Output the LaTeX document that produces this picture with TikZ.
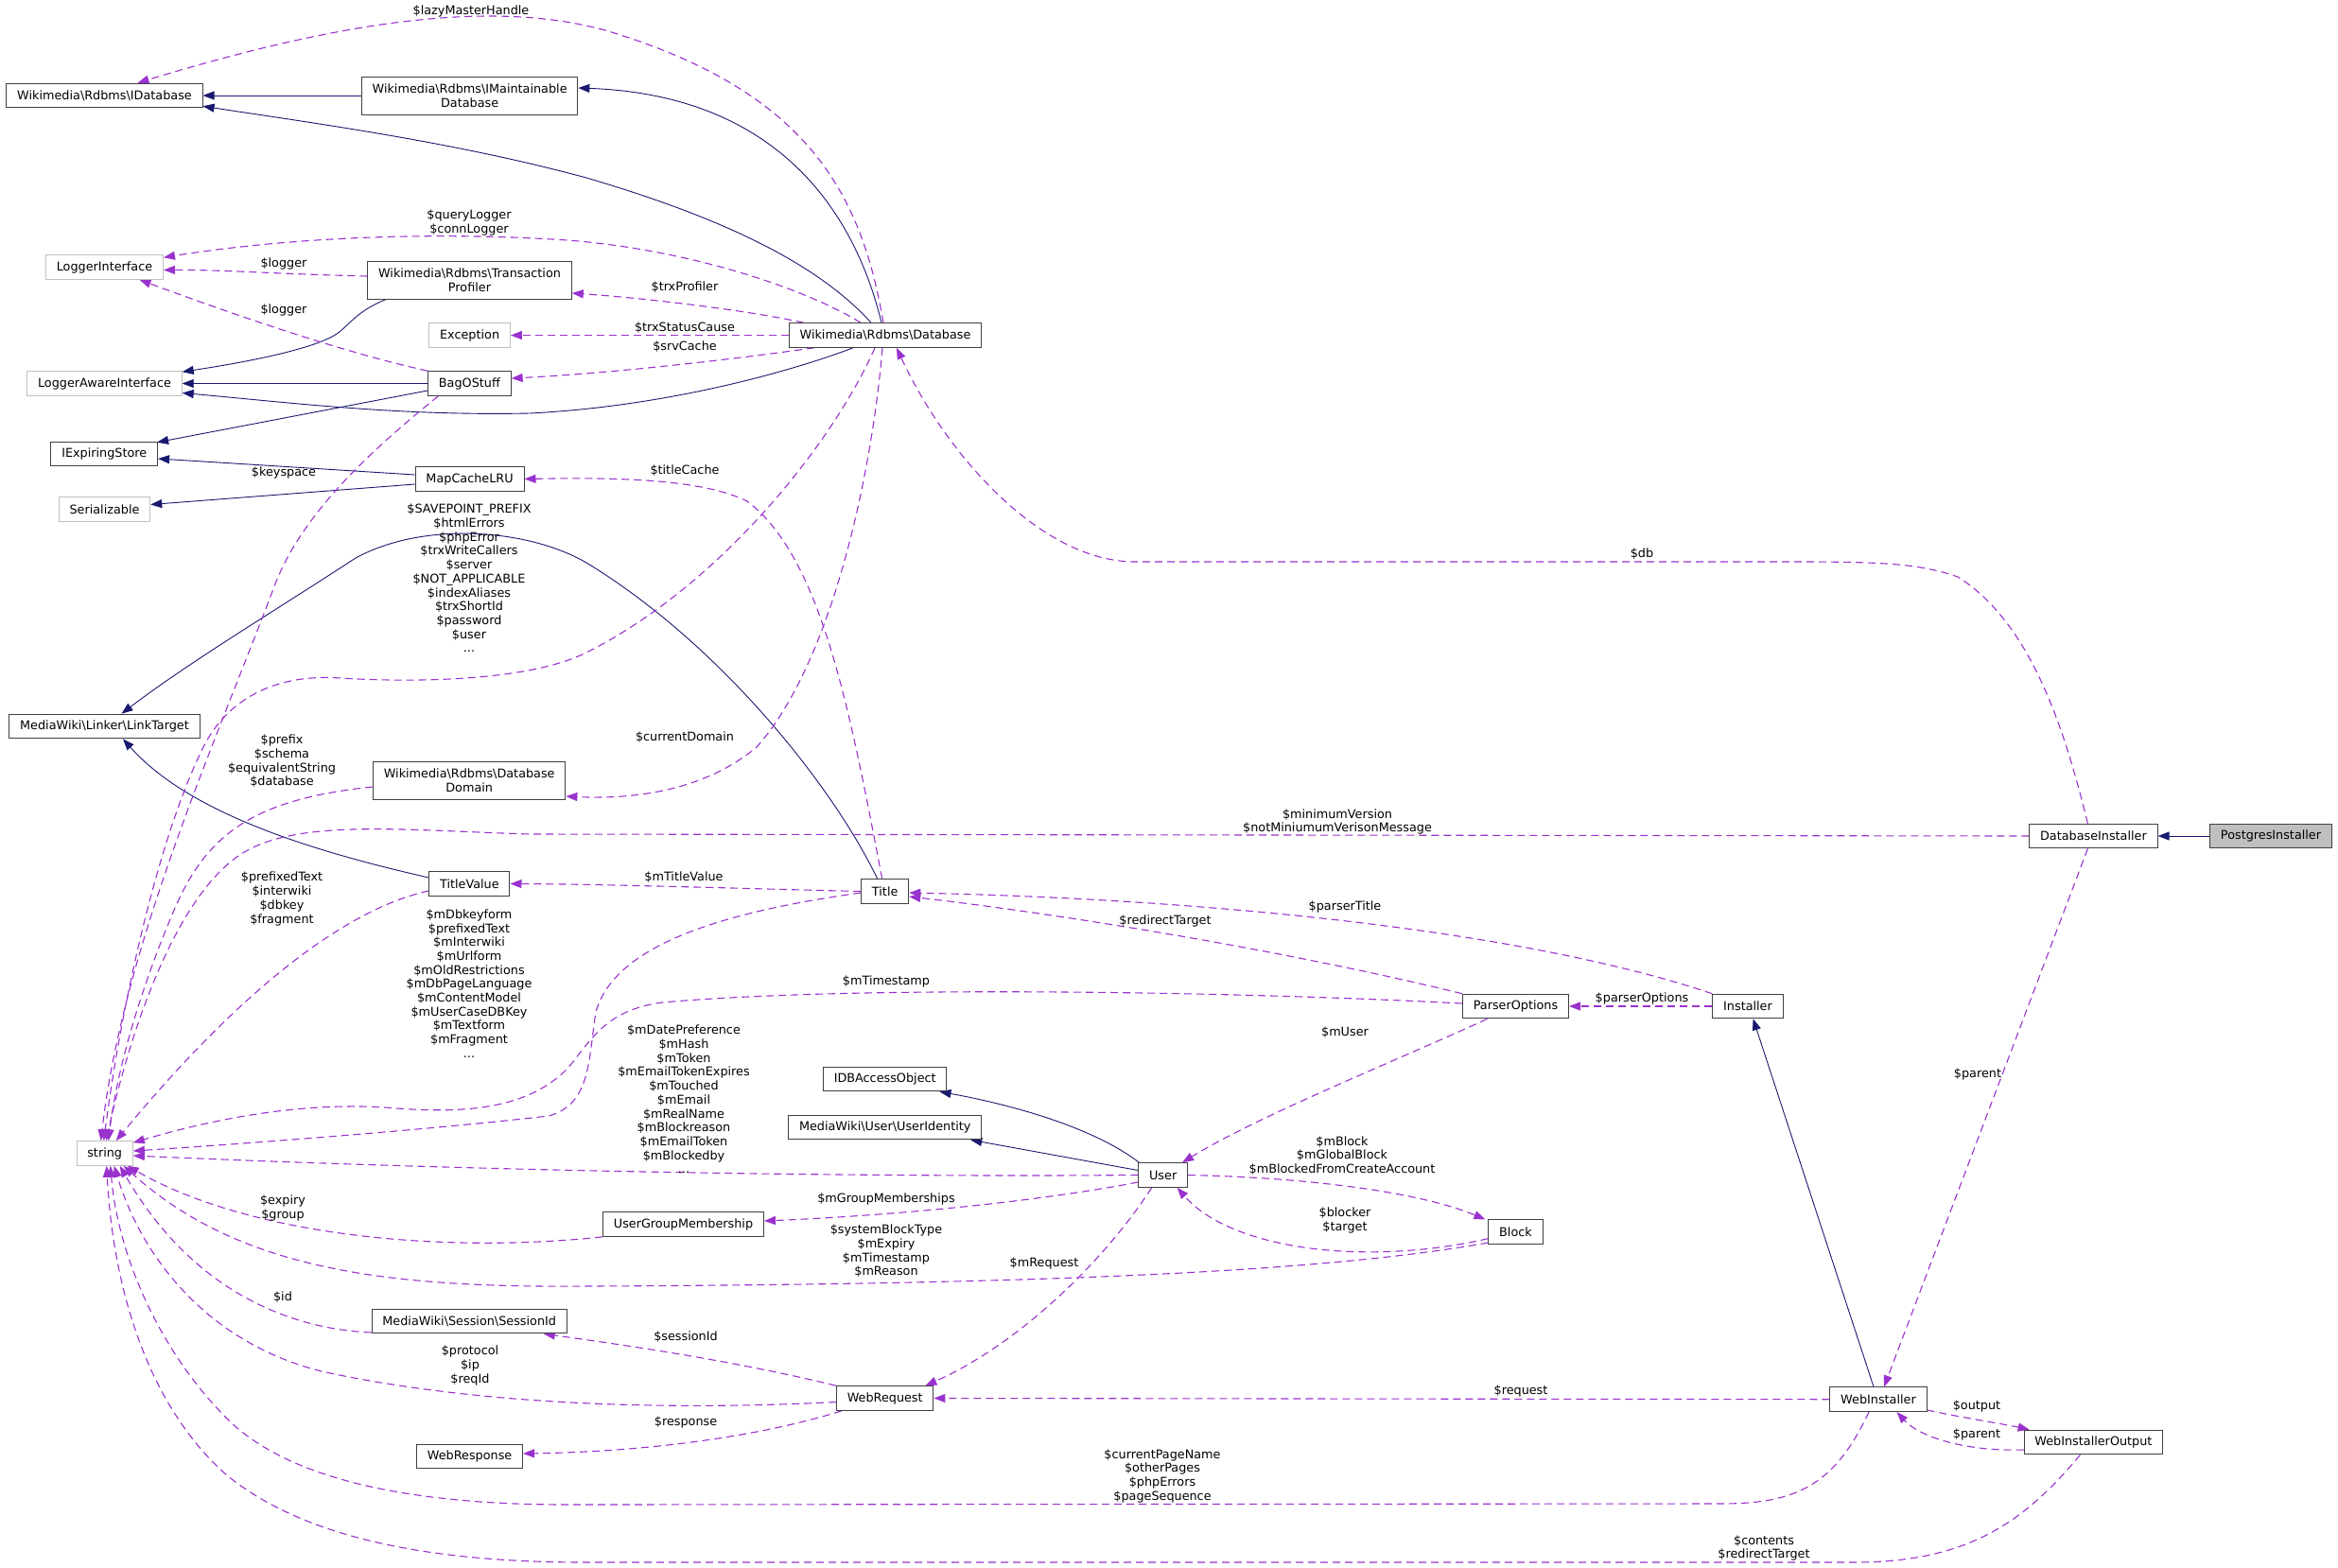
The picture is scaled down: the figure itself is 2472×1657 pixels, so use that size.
\documentclass[tikz,border=0pt]{standalone}
\usepackage{fontspec}
\setmainfont{DejaVu Sans}
\usetikzlibrary{arrows.meta,backgrounds}
\definecolor{navyc}{HTML}{191970}
\definecolor{orch}{HTML}{9A32CD}
\definecolor{lgray}{HTML}{BFBFBF}
\definecolor{dgray}{HTML}{404040}
\newcommand{\bs}{\textbackslash}
\begin{document}
\begin{tikzpicture}[x=1pt,y=-1pt,
  every node/.style={font=\fontsize{12.8pt}{14.7pt}\selectfont},
  cls/.style={draw=dgray, line width=1pt, fill=white, minimum height=25.6pt, inner xsep=11.3pt, inner ysep=0pt, align=center},
  clstwo/.style={cls, minimum height=40pt},
  ext/.style={cls, draw=lgray},
  inh/.style={draw=navyc, line width=0.9pt, -{Triangle[length=12pt,width=9pt]}},
  use/.style={draw=orch, line width=1.1pt, dash pattern=on 8pt off 5pt, -{Triangle[length=12pt,width=9pt]}},
  lab/.style={align=center, inner sep=0pt}
]
\useasboundingbox (0,0) rectangle (2472,1657);

% nodes
\node[cls] (idb) at (110.5,101) {Wikimedia\bs Rdbms\bs IDatabase};
\node[clstwo] (imaint) at (496.6,101) {Wikimedia\bs Rdbms\bs IMaintainable\\Database};
\node[ext] (logi) at (110.5,282.5) {LoggerInterface};
\node[clstwo] (trx) at (496.5,296) {Wikimedia\bs Rdbms\bs Transaction\\Profiler};
\node[ext] (exc) at (496.6,354.5) {Exception};
\node[ext] (lai) at (110.5,405.5) {LoggerAwareInterface};
\node[cls] (bag) at (496.4,405.5) {BagOStuff};
\node[cls] (db) at (936,354.5) {Wikimedia\bs Rdbms\bs Database};
\node[cls] (ies) at (110.3,480) {IExpiringStore};
\node[cls] (mcl) at (496.6,506.5) {MapCacheLRU};
\node[ext] (ser) at (110.5,538.5) {Serializable};
\node[cls] (lt) at (110.5,768) {MediaWiki\bs Linker\bs LinkTarget};
\node[clstwo] (dom) at (496.2,825) {Wikimedia\bs Rdbms\bs Database\\Domain};
\node[cls] (tv) at (496.4,934.5) {TitleValue};
\node[cls] (title) at (935.7,942.5) {Title};
\node[ext] (str) at (110.7,1219.5) {string};
\node[cls] (idbao) at (935.7,1141) {IDBAccessObject};
\node[cls] (uid) at (935.7,1192) {MediaWiki\bs User\bs UserIdentity};
\node[cls] (user) at (1229.7,1242.5) {User};
\node[cls] (ugm) at (722.5,1294.5) {UserGroupMembership};
\node[cls] (wreq) at (935.7,1478.5) {WebRequest};
\node[cls] (sid) at (496.2,1397) {MediaWiki\bs Session\bs SessionId};
\node[cls] (wresp) at (496.6,1540) {WebResponse};
\node[cls] (po) at (1602.5,1064) {ParserOptions};
\node[cls] (inst) at (1848,1064) {Installer};
\node[cls] (block) at (1602.5,1302.7) {Block};
\node[cls] (dbi) at (2213.4,884) {DatabaseInstaller};
\node[cls, fill=lgray] (pg) at (2401,884) {PostgresInstaller};
\node[cls] (wi) at (1986,1479.7) {WebInstaller};
\node[cls] (wio) at (2213.4,1525) {WebInstallerOutput};

\begin{scope}[on background layer]
% inheritance
\draw[inh] (imaint.west) -- (idb.east);
\draw[inh] ([xshift=-15pt]db.north) .. controls (870,285) and (780,235) .. (620,188) .. controls (480,150) and (330,130) .. ([yshift=2pt]idb.south east);
\draw[inh] ([xshift=-4pt]db.north) .. controls (900,210) and (810,100) .. ([yshift=8pt]imaint.east);
\draw[inh] ([xshift=20pt]trx.south west) .. controls (380,328) and (372,340) .. (360,350) .. controls (340,368) and (260,383) .. ([yshift=-1pt]lai.north east);
\draw[inh] (bag.west) -- (lai.east);
\draw[inh] ([xshift=-34pt]db.south) .. controls (830,395) and (700,430) .. (560,437) .. controls (420,440) and (300,425) .. ([yshift=-10pt]lai.east);
\draw[inh] ([yshift=-7.5pt]bag.west) -- ([xshift=-1pt,yshift=-1pt]ies.north east);
\draw[inh] ([yshift=4.5pt]mcl.west) -- ([yshift=-5pt]ies.east);
\draw[inh] ([yshift=-5.5pt]mcl.west) -- ([yshift=5pt]ser.east);
\draw[inh] ([xshift=-8pt]title.north) .. controls (880,830) and (760,680) .. (620,595) .. controls (560,560) and (450,550) .. (376,590) .. controls (300,640) and (200,700) .. ([xshift=18pt]lt.north);
\draw[inh] ([yshift=6.5pt]tv.west) .. controls (330,900) and (200,860) .. ([xshift=19.5pt]lt.south);
\draw[inh] ([xshift=1pt]user.north west) .. controls (1160,1195) and (1080,1170) .. ([xshift=-8pt]idbao.south east);
\draw[inh] ([yshift=5pt]user.west) -- ([xshift=-12pt]uid.south east);
\draw[inh] (pg.west) -- (dbi.east);
\draw[inh] ([xshift=-5pt]wi.north) -- ([xshift=5.6pt]inst.south);

% usage
\draw[use] ([xshift=-2pt]db.north) .. controls (910,200) and (850,95) .. (640,32) .. controls (540,5) and (400,10) .. ([xshift=35pt]idb.north);
\draw[use] ([xshift=-26pt]db.north) .. controls (860,310) and (740,265) .. (600,254) .. controls (450,244) and (300,252) .. ([yshift=-3pt]logi.north east);
\draw[use] ([yshift=4pt]trx.west) .. controls (300,290) and (230,285) .. ([yshift=-3pt]logi.east);
\draw[use] (bag.north west) .. controls (360,372) and (240,330) .. ([xshift=37pt]logi.south);
\draw[use] ([xshift=16pt]db.north west) .. controls (790,328) and (680,315) .. ([yshift=-14pt]trx.east);
\draw[use] (db.west) -- (exc.east);
\draw[use] ([xshift=27pt]db.south west) .. controls (760,382) and (640,395) .. ([yshift=5.5pt]bag.east);
\draw[use] ([xshift=-11pt]db.south) .. controls (880,470) and (760,620) .. (620,690) .. controls (560,720) and (440,722) .. (360,717) .. controls (290,712) and (240,740) .. (215,790) .. controls (170,880) and (130,1050) .. ([xshift=-1pt]str.north);
\draw[use] ([xshift=-33pt]bag.south) .. controls (400,470) and (320,540) .. (290,620) .. controls (230,780) and (130,1000) .. ([xshift=-4pt]str.north);
\draw[use] ([xshift=-3pt]db.south) .. controls (922,500) and (880,700) .. (800,790) .. controls (740,840) and (660,845) .. ([yshift=-17pt]dom.east);
\draw[use] ([xshift=-6pt]dbi.north) .. controls (2185,780) and (2150,660) .. (2070,610) .. controls (2030,596) and (1990,594) .. (1900,594) -- (1200,594) .. controls (1100,594) and (1000,480) .. ([xshift=12pt]db.south);
\draw[use] ([xshift=-3pt]title.north) .. controls (900,760) and (870,590) .. (790,530) .. controls (740,505) and (640,505) .. (mcl.east);
\draw[use] ([yshift=-7pt]dom.west) .. controls (270,845) and (220,880) .. (185,960) .. controls (155,1030) and (125,1120) .. ([xshift=4pt]str.north);
\draw[use] ([yshift=-7.5pt]tv.west) .. controls (370,960) and (260,1040) .. ([xshift=12pt]str.north);
\draw[use] (title.west) .. controls (800,940) and (650,935) .. (tv.east);
\draw[use] ([yshift=-1.5pt]title.west) .. controls (760,965) and (650,1000) .. (630,1070) .. controls (622,1120) and (625,1168) .. (580,1180) .. controls (450,1195) and (250,1210) .. ([yshift=2.5pt]str.east);
\draw[use] ([yshift=3pt]po.west) .. controls (1300,1048) and (900,1042) .. (700,1060) .. controls (640,1068) and (625,1100) .. (600,1130) .. controls (560,1170) and (500,1178) .. (420,1172) .. controls (320,1163) and (220,1185) .. ([yshift=-2pt]str.north east);
\draw[use] (po.north west) .. controls (1380,1010) and (1150,970) .. ([yshift=-5.5pt]title.east);
\draw[use] (inst.north west) .. controls (1600,980) and (1250,950) .. ([yshift=-1.5pt]title.east);
\draw[use] (inst.west) -- (po.east);
\draw[use] ([xshift=-30pt]po.south) .. controls (1480,1120) and (1330,1180) .. ([xshift=-6pt]user.north east);
\draw[use] (user.west) .. controls (900,1245) and (500,1238) .. ([yshift=-2.5pt]str.east);
\draw[use] (user.east) .. controls (1380,1245) and (1500,1260) .. ([xshift=-3pt]block.north west);
\draw[use] ([yshift=-7pt]block.west) .. controls (1440,1340) and (1300,1320) .. ([xshift=15pt]user.south);
\draw[use] ([yshift=2pt]block.south west) .. controls (1400,1345) and (1100,1358) .. (620,1360) .. controls (400,1362) and (250,1340) .. ([xshift=20pt]str.south);
\draw[use] ([yshift=-7.5pt]user.west) .. controls (1100,1270) and (950,1285) .. ([yshift=3.5pt]ugm.east);
\draw[use] (ugm.south west) .. controls (480,1325) and (270,1310) .. ([xshift=24pt]str.south);
\draw[use] ([xshift=-12pt]user.south) .. controls (1170,1330) and (1080,1420) .. ([xshift=-9pt]wreq.north east);
\draw[use] (wreq.north west) .. controls (780,1440) and (680,1425) .. ([xshift=-25pt]sid.south east);
\draw[use] ([yshift=-4pt]wreq.west) .. controls (700,1492) and (500,1485) .. (340,1450) .. controls (220,1420) and (150,1330) .. ([xshift=10pt]str.south);
\draw[use] ([xshift=6pt]wreq.south west) .. controls (800,1520) and (680,1535) .. ([yshift=3pt]wresp.east);
\draw[use] ([yshift=-12pt]sid.west) .. controls (300,1405) and (200,1360) .. ([xshift=16pt]str.south);
\draw[use] (wi.west) -- (wreq.east);
\draw[use] ([xshift=-10pt]wi.south) .. controls (1940,1570) and (1900,1590) .. (1820,1590) -- (600,1591) .. controls (420,1591) and (300,1560) .. (240,1500) .. controls (170,1430) and (125,1330) .. ([xshift=6pt]str.south);
\draw[use] ([xshift=-14pt]wio.south) .. controls (2140,1610) and (2080,1652) .. (1960,1652) -- (620,1652) .. controls (450,1652) and (320,1625) .. (240,1560) .. controls (160,1490) and (120,1370) .. ([xshift=2pt]str.south);
\draw[use] ([xshift=-6pt]dbi.south) -- ([xshift=6pt]wi.north);
\draw[use] ([yshift=2pt]wi.south east) .. controls (2080,1500) and (2120,1506) .. ([xshift=6pt]wio.north west);
\draw[use] ([yshift=-8pt]wio.west) .. controls (2080,1535) and (2030,1520) .. ([xshift=19.5pt]wi.south);
\draw[use] (dbi.west) -- (560,882) .. controls (430,878) and (320,866) .. (260,900) .. controls (190,940) and (140,1080) .. ([xshift=1.5pt]str.north);
\end{scope}

% labels
\node[lab] (l1) at (498,12) {\$lazyMasterHandle};
\node[lab] (l2) at (496,235.5) {\$queryLogger\\\$connLogger};
\node[lab] (l3) at (300,279) {\$logger};
\node[lab] (l4) at (300,328) {\$logger};
\node[lab] (l5) at (724,304) {\$trxProfiler};
\node[lab] (l6) at (724,347) {\$trxStatusCause};
\node[lab] (l7) at (724,367) {\$srvCache};
\node[lab] (l8) at (300,500) {\$keyspace};
\node[lab] (l9) at (724,498) {\$titleCache};
\node[lab] (l10) at (496,611.5) {\$SAVEPOINT\_PREFIX\\\$htmlErrors\\\$phpError\\\$trxWriteCallers\\\$server\\\$NOT\_APPLICABLE\\\$indexAliases\\\$trxShortId\\\$password\\\$user\\...};
\node[lab] (l11) at (724,780) {\$currentDomain};
\node[lab] (l12) at (298,805) {\$prefix\\\$schema\\\$equivalentString\\\$database};
\node[lab] (l13) at (298,950.5) {\$prefixedText\\\$interwiki\\\$dbkey\\\$fragment};
\node[lab] (l14) at (723,928) {\$mTitleValue};
\node[lab] (l15) at (496,1040) {\$mDbkeyform\\\$prefixedText\\\$mInterwiki\\\$mUrlform\\\$mOldRestrictions\\\$mDbPageLanguage\\\$mContentModel\\\$mUserCaseDBKey\\\$mTextform\\\$mFragment\\...};
\node[lab] (l16) at (937,1038) {\$mTimestamp};
\node[lab] (l17) at (1232,974) {\$redirectTarget};
\node[lab] (l18) at (1422,959) {\$parserTitle};
\node[lab] (l19) at (1736,1056) {\$parserOptions};
\node[lab] (l20) at (1422,1092) {\$mUser};
\node[lab] (l21) at (723,1162.5) {\$mDatePreference\\\$mHash\\\$mToken\\\$mEmailTokenExpires\\\$mTouched\\\$mEmail\\\$mRealName\\\$mBlockreason\\\$mEmailToken\\\$mBlockedby\\...};
\node[lab] (l22) at (1419,1222) {\$mBlock\\\$mGlobalBlock\\\$mBlockedFromCreateAccount};
\node[lab] (l23) at (1422,1290.5) {\$blocker\\\$target};
\node[lab] (l24) at (937,1323) {\$systemBlockType\\\$mExpiry\\\$mTimestamp\\\$mReason};
\node[lab] (l25) at (937,1268) {\$mGroupMemberships};
\node[lab] (l26) at (299,1277.5) {\$expiry\\\$group};
\node[lab] (l27) at (1104,1336) {\$mRequest};
\node[lab] (l28) at (725,1414) {\$sessionId};
\node[lab] (l29) at (299,1372) {\$id};
\node[lab] (l30) at (497,1444) {\$protocol\\\$ip\\\$reqId};
\node[lab] (l31) at (725,1504) {\$response};
\node[lab] (l32) at (1608,1471) {\$request};
\node[lab] (l33) at (1229,1560.5) {\$currentPageName\\\$otherPages\\\$phpErrors\\\$pageSequence};
\node[lab] (l34) at (1865,1637) {\$contents\\\$redirectTarget};
\node[lab] (l35) at (2091,1136) {\$parent};
\node[lab] (l36) at (2090,1487) {\$output};
\node[lab] (l37) at (2090,1517) {\$parent};
\node[lab] (l38) at (1414,869) {\$minimumVersion\\\$notMiniumumVerisonMessage};
\node[lab] (l39) at (1736,586) {\$db};
\end{tikzpicture}
\end{document}
